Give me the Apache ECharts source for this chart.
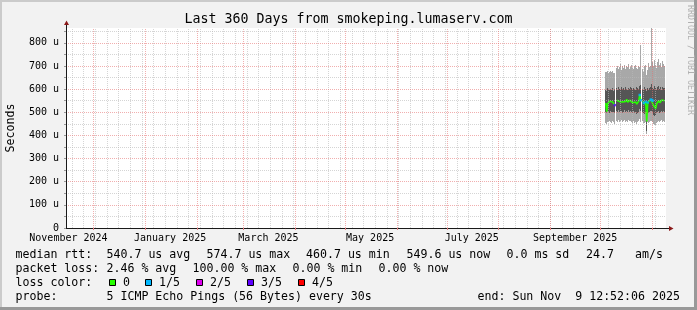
<!DOCTYPE html>
<html><head><meta charset="utf-8">
<script src="https://cdn.jsdelivr.net/npm/echarts@6/dist/echarts.min.js"></script>
<style>html,body{margin:0;padding:0;background:#f2f2f2}#c{width:697px;height:310px}</style>
</head><body><div id="c"></div>
<script>
// ---------------- data ----------------
const chartTitle = 'Last 360 Days from smokeping.lumaserv.com';
const yAxisTitle = 'Seconds';
const watermark = 'RRDTOOL / TOBI OETIKER';
const endTime = '2025-11-09T12:52:06Z';
const spanDays = 360;
const yMax = 864;

const xTickLabels = ['November 2024', 'January 2025', 'March 2025', 'May 2025', 'July 2025', 'September 2025'];
const xTickLabelDates = ['2024-11-16', '2025-01-16', '2025-03-16', '2025-05-16', '2025-07-16', '2025-09-16'];
const monthLineDates = ['2024-12-01', '2025-01-01', '2025-02-01', '2025-03-01', '2025-04-01', '2025-05-01',
  '2025-06-01', '2025-07-01', '2025-08-01', '2025-09-01', '2025-10-01', '2025-11-01'];
const firstWeekLine = '2024-11-18';

const yTickValues = [0, 100, 200, 300, 400, 500, 600, 700, 800];
const yTickLabels = ['0', '100 u', '200 u', '300 u', '400 u', '500 u', '600 u', '700 u', '800 u'];
const yMinorValues = [50, 150, 250, 350, 450, 550, 650, 750, 850];

// samples (one per 0.6 day) starting at sampleStart, values in microseconds
const sampleStart = '2025-10-04T09:00:00Z';
const sampleStepHours = 14.4;

const pingMax = [676, 672, 678, 670, 675, 680, 674, 677, 671, 668,
  null,
  690, 702, 686, 695, 708, 684, 698, 692, 705, 688, 700, 694, 710, 689, 697, 703, 691, 685, 699, 706, 693, 687, 701, 696,
  790, null,
  688, 676, 699, 705, 662, 684, 712, 694, 702,
  900,
  715, 698, 724, 706, 690, 719, 731, 703, 712, 696, 722, 708, 700];
const pingHigh = [598, 592, 604, 600, 596, 602, 597, 606, 594, 599,
  null,
  603, 598, 607, 601, 595, 610, 600, 604, 597, 608, 602, 596, 605, 599, 611, 603, 598, 606, 601, 595, 609, 604, 600, 612,
  618, null,
  602, 596, 608, 600, 590, 605, 598, 603, 610,
  620,
  606, 600, 612, 604, 597, 609, 615, 601, 607, 598, 611, 603, 605];
const pingMedian = [540, 503, 538, 545, 548, 542, 550, 544, 547, 531,
  null,
  552, 548, 555, 546, 550, 553, 544, 549, 551, 547, 556, 543, 548, 552, 545, 550, 541, 547, 538, 544, 535, 540, 548, 574.7,
  552, null,
  548, 540, 536, 545, 460.7, 542, 538, 546, 555,
  553,
  550, 528, 520, 516, 538, 544, 550, 541, 547, 553, 545, 551, 549.6];
const pingLow = [502, 497, 505, 500, 498, 506, 501, 503, 499, 496,
  null,
  506, 502, 509, 500, 504, 507, 498, 503, 508, 501, 505, 499, 510, 502, 506, 500, 497, 504, 495, 500, 493, 498, 503, 512,
  505, null,
  503, 497, 494, 500, 420, 498, 495, 502, 506,
  505,
  503, 490, 486, 488, 497, 501, 505, 498, 503, 507, 500, 504, 502];
const pingMin = [452, 448, 460, 456, 462, 458, 455, 461, 457, 450,
  null,
  463, 458, 466, 460, 464, 468, 457, 462, 465, 459, 463, 456, 467, 461, 464, 458, 455, 462, 453, 459, 451, 456, 462, 470,
  460, null,
  462, 455, 452, 458, 408, 456, 453, 460, 463,
  462,
  460, 448, 444, 446, 455, 459, 463, 456, 461, 465, 458, 462, 460];
const lossLevel = [0, 0, 0, 0, 0, 0, 0, 0, 0, 3,
  null,
  0, 0, 0, 0, 0, 0, 0, 0, 0, 0, 0, 0, 0, 0, 0, 0, 0, 0, 0, 0, 0, 0, 0, 1,
  1, null,
  0, 1, 0, 1, 0, 1, 0, 0, 1,
  1,
  1, 0, 0, 0, 0, 0, 0, 0, 0, 0, 0, 0, 0];

const lossLabels = ['0', '1/5', '2/5', '3/5', '4/5'];
const lossColors = ['#26ff00', '#00b8ff', '#dd00ee', '#5e00ff', '#ff0000'];

const legendLine1 = [['median rtt:', 16], ['540.7 us avg', 107], ['574.7 us max', 207], ['460.7 us min', 306.5],
  ['549.6 us now', 407], ['0.0 ms sd', 507], ['24.7', 586.5], ['am/s', 635.5]];
const legendLine2 = [['packet loss:', 16], ['2.46 % avg', 107], ['100.00 % max', 193], ['0.00 % min', 293], ['0.00 % now', 379]];
const legendLine4 = [['probe:', 16], ['5 ICMP Echo Pings (56 Bytes) every 30s', 107], ['end: Sun Nov  9 12:52:06 2025', 478]];
const lossLegendTitle = 'loss color:';

// ---------------- build ----------------
const DAY = 86400000;
const END = Date.parse(endTime);
const START = END - spanDays * DAY;
const T0 = Date.parse(sampleStart);
const STEP = sampleStepHours * 3600000;
const times = pingMedian.map((_, i) => T0 + i * STEP);
const utc = s => Date.parse(s + 'T00:00:00Z');
const labelTimes = xTickLabelDates.map(utc);
const monthTimes = monthLineDates.map(utc);
const weekTimes = [];
for (let t = utc(firstWeekLine); t < END; t += 7 * DAY) weekTimes.push(t);

const pts = arr => arr.map((v, i) => [times[i], v == null ? '-' : v]);
const smokeData = times.map((t, i) => pingMin[i] == null ? [t, '-', '-', '-', '-'] :
  [t, pingMin[i], pingLow[i], pingHigh[i], pingMax[i]]);

const FONT = 'DejaVu Sans Mono';
const GRID = 'rgba(185,185,185,0.6)';
const MGRID = 'rgba(230,110,110,0.55)';
const OUTER = '#a8a8a8', INNER = '#555555';
const PL = 66, PT = 28, PW = 600, PH = 200;

const gridLines = [];
weekTimes.forEach(t => gridLines.push({xAxis: t, lineStyle: {color: GRID}}));
yMinorValues.forEach(v => gridLines.push({yAxis: v, lineStyle: {color: GRID}}));
monthTimes.forEach(t => gridLines.push({xAxis: t, lineStyle: {color: MGRID}}));
yTickValues.filter(v => v > 0).forEach(v => gridLines.push({yAxis: v, lineStyle: {color: MGRID}}));

const lossPoints = [];
lossLevel.forEach((l, i) => {
  if (l != null && l > 0) lossPoints.push({value: [times[i], pingMedian[i]], itemStyle: {color: lossColors[l]}});
});

// smoke columns: outer band (min..max) and inner band (low..high), pixel-snapped
function renderSmoke(params, api) {
  const t = api.value(0);
  const v1 = api.value(1), v2 = api.value(2), v4 = api.value(3), v5 = api.value(4);
  if (isNaN(v1) || isNaN(v5)) return null;
  const top = api.coord([t, yMax])[1];
  const yOf = v => Math.round(Math.max(top, api.coord([t, v])[1]));
  const x = Math.floor(api.coord([t, v1])[0]);
  const w = Math.max(1, Math.round(api.size([STEP, 0])[0]));
  const y1 = yOf(v1), y2 = yOf(v2), y4 = yOf(v4), y5 = yOf(v5);
  return {
    type: 'group', children: [
      {type: 'rect', shape: {x, y: y5, width: w, height: y1 - y5}, style: {fill: OUTER}},
      {type: 'rect', shape: {x, y: y4, width: w, height: y2 - y4}, style: {fill: INNER}}
    ]
  };
}

const graphics = [];
const txt = (s, x, y, opt = {}) => graphics.push(Object.assign({
  type: 'text', x, y, silent: true,
  style: Object.assign({text: s, fontFamily: FONT, fontSize: 11.6, fill: '#000', align: 'left', verticalAlign: 'middle'}, opt.style || {})
}, opt.el || {}));

// frame shading
graphics.push({type: 'rect', silent: true, shape: {x: 0, y: 0, width: 697, height: 2}, style: {fill: '#cbcbcb'}});
graphics.push({type: 'rect', silent: true, shape: {x: 0, y: 0, width: 2, height: 310}, style: {fill: '#cbcbcb'}});
graphics.push({type: 'rect', silent: true, shape: {x: 0, y: 307, width: 697, height: 3}, style: {fill: '#999999'}});
graphics.push({type: 'rect', silent: true, shape: {x: 694, y: 0, width: 3, height: 310}, style: {fill: '#999999'}});

txt(chartTitle, 348.5, 20, {style: {fontSize: 13.3, align: 'center'}});
txt(yAxisTitle, 11, PT + PH / 2, {style: {align: 'center'}, el: {rotation: Math.PI / 2}});
txt(watermark, 690, 60, {style: {fontSize: 8.3, align: 'center', fill: '#b0b0b0'}, el: {rotation: -Math.PI / 2}});

// axis arrows
graphics.push({type: 'line', silent: true, shape: {x1: PL + PW, y1: PT + PH + 0.5, x2: PL + PW + 4, y2: PT + PH + 0.5}, style: {stroke: '#1a1a1a', lineWidth: 1}});
graphics.push({type: 'polygon', silent: true, shape: {points: [[PL + PW + 3, PT + PH - 2], [PL + PW + 7.5, PT + PH + 0.5], [PL + PW + 3, PT + PH + 3]]}, style: {fill: '#8b1a1a'}});
graphics.push({type: 'line', silent: true, shape: {x1: PL + 0.5, y1: PT, x2: PL + 0.5, y2: PT - 3}, style: {stroke: '#1a1a1a', lineWidth: 1}});
graphics.push({type: 'polygon', silent: true, shape: {points: [[PL - 2, PT - 3], [PL + 0.5, PT - 7.5], [PL + 3, PT - 3]]}, style: {fill: '#8b1a1a'}});

// legend
legendLine1.forEach(([s, x]) => txt(s, x - 0.5, 254.5));
legendLine2.forEach(([s, x]) => txt(s, x - 0.5, 268.5));
txt(lossLegendTitle, 15.5, 282.5);
const swatchX = [109, 145, 196, 247, 298];
lossLabels.forEach((lab, i) => {
  graphics.push({type: 'rect', silent: true, shape: {x: swatchX[i] + 0.5, y: 279.5, width: 6, height: 6},
    style: {fill: lossColors[i], stroke: '#000', lineWidth: 1}});
  txt(lab, swatchX[i] + 14, 282.5);
});
legendLine4.forEach(([s, x]) => txt(s, x - 0.5, 296.5));

const chart = echarts.init(document.getElementById('c'), null, {renderer: 'canvas'});
chart.setOption({
  animation: false,
  backgroundColor: '#f2f2f2',
  grid: {left: PL, top: PT, width: PW, height: PH, show: true, backgroundColor: '#ffffff', borderWidth: 0},
  xAxis: {
    type: 'value', min: START, max: END, z: 10,
    splitLine: {show: false},
    axisLine: {show: true, lineStyle: {color: '#1a1a1a', width: 1}},
    axisTick: {show: true, customValues: monthTimes, length: 2, lineStyle: {color: '#e08080'}},
    axisLabel: {
      customValues: labelTimes, margin: 5, fontFamily: FONT, fontSize: 10, color: '#000',
      formatter: v => xTickLabels[labelTimes.indexOf(v)] || ''
    }
  },
  yAxis: {
    type: 'value', min: 0, max: yMax, z: 10,
    splitLine: {show: false},
    axisLine: {show: true, lineStyle: {color: '#1a1a1a', width: 1}},
    axisTick: {show: true, customValues: yTickValues.concat(yMinorValues), length: 2, lineStyle: {color: '#999'}},
    axisLabel: {
      customValues: yTickValues, margin: 7, fontFamily: FONT, fontSize: 10, color: '#000',
      formatter: v => yTickLabels[yTickValues.indexOf(v)] || ''
    }
  },
  series: [
    {type: 'custom', name: 'smoke', data: smokeData, renderItem: renderSmoke, silent: true, z: 2,
      encode: {x: 0, y: [1, 2, 3, 4]}},
    {type: 'line', name: 'grid', data: [], silent: true, z: 3,
      markLine: {silent: true, symbol: ['none', 'none'], label: {show: false}, animation: false,
        lineStyle: {type: [1, 1], width: 1}, emphasis: {disabled: true}, data: gridLines}},
    {type: 'line', name: 'median', data: pts(pingMedian), symbol: 'none', connectNulls: false,
      lineStyle: {color: lossColors[0], width: 1.6}, silent: true, z: 4},
    {type: 'scatter', name: 'loss', data: lossPoints, symbol: 'rect', symbolSize: 2.5, silent: true, z: 5}
  ],
  graphic: graphics
});
</script></body></html>
